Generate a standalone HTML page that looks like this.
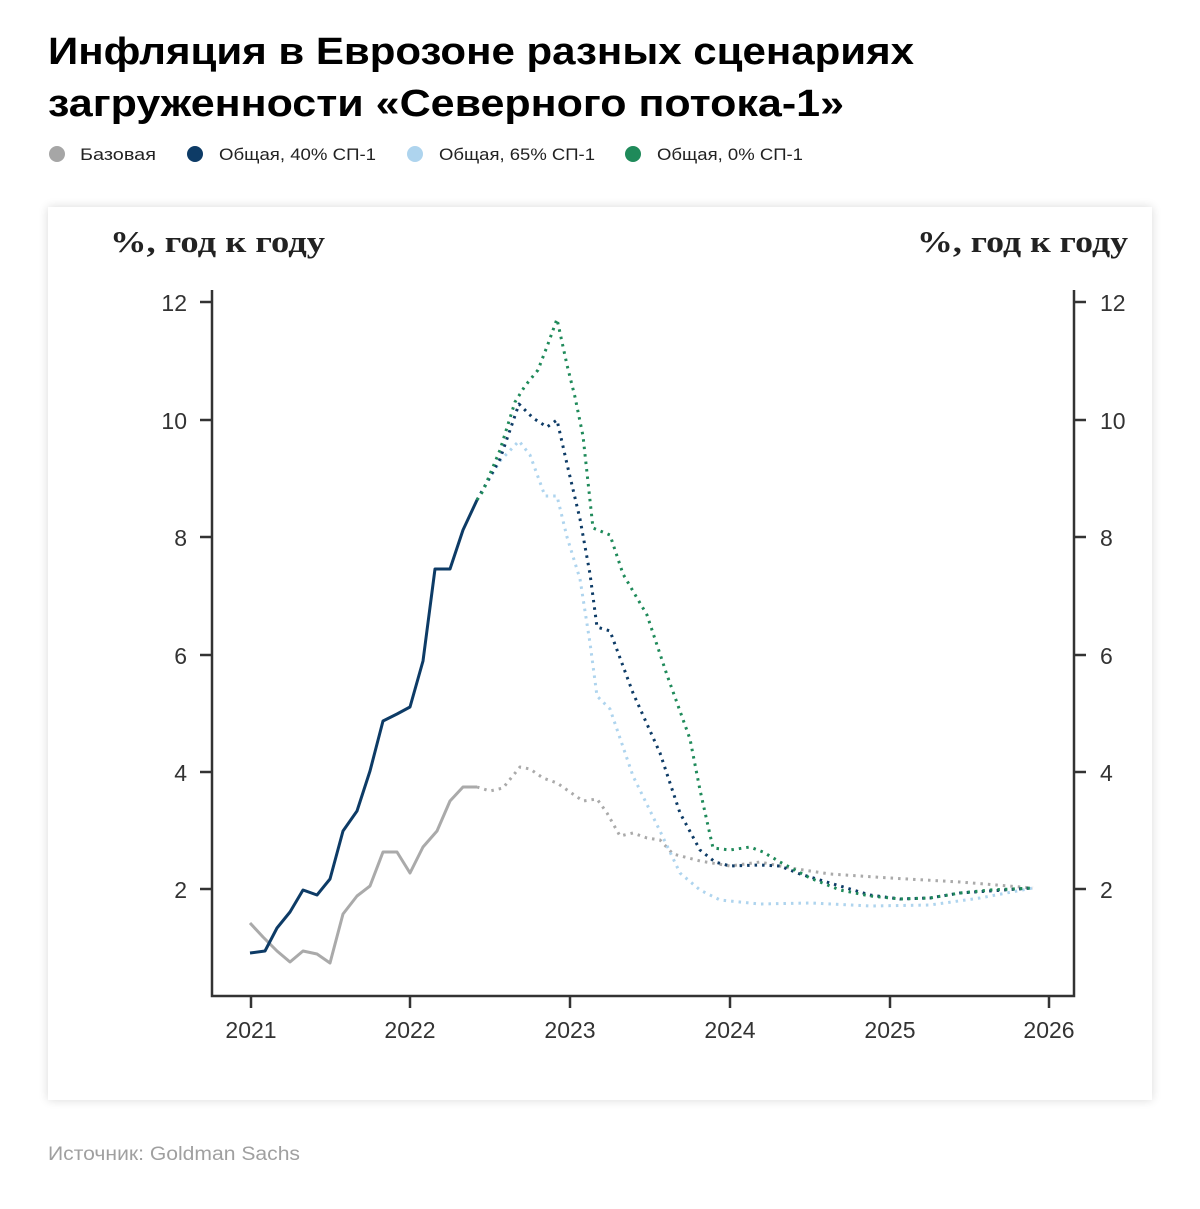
<!DOCTYPE html>
<html><head><meta charset="utf-8"><style>
html,body{margin:0;padding:0;background:#fff;}
body{width:1200px;height:1204px;overflow:hidden;}
</style></head><body>
<svg width="1200" height="1204" viewBox="0 0 1200 1204" xmlns="http://www.w3.org/2000/svg">
<defs><filter id="sh" x="-5%" y="-5%" width="110%" height="110%"><feGaussianBlur stdDeviation="5"/></filter></defs>
<g font-family="Liberation Sans, sans-serif">
<text x="48" y="64" font-size="38" font-weight="bold" fill="#000" textLength="866" lengthAdjust="spacingAndGlyphs">Инфляция в Еврозоне разных сценариях</text>
<text x="48" y="116" font-size="38" font-weight="bold" fill="#000" textLength="796" lengthAdjust="spacingAndGlyphs">загруженности «Северного потока-1»</text>
<g font-size="17" fill="#222">
<circle cx="57" cy="154" r="8" fill="#a6a6a6"/><text x="80" y="160" textLength="76" lengthAdjust="spacingAndGlyphs">Базовая</text>
<circle cx="195" cy="154" r="8" fill="#0d3b66"/><text x="219" y="160" textLength="157" lengthAdjust="spacingAndGlyphs">Общая, 40% СП-1</text>
<circle cx="415" cy="154" r="8" fill="#aed4ee"/><text x="439" y="160" textLength="156" lengthAdjust="spacingAndGlyphs">Общая, 65% СП-1</text>
<circle cx="633" cy="154" r="8" fill="#1f8a5a"/><text x="657" y="160" textLength="146" lengthAdjust="spacingAndGlyphs">Общая, 0% СП-1</text>
</g>
</g>
<rect x="48" y="207" width="1104" height="893" fill="#000" opacity="0.15" filter="url(#sh)"/>
<rect x="48" y="207" width="1104" height="893" fill="#fff"/>
<g font-family="Liberation Serif, serif" font-weight="bold" font-size="31" fill="#222">
<text x="110" y="252" textLength="215" lengthAdjust="spacingAndGlyphs">%, год к году</text>
<text x="917" y="252" textLength="211" lengthAdjust="spacingAndGlyphs">%, год к году</text>
</g>
<g stroke="#333" stroke-width="2.5" fill="none">
<path d="M212 290 V996 H1074 V290"/>
<path d="M200 302H212M200 420H212M200 537H212M200 655H212M200 772H212M200 889H212"/>
<path d="M1074 302H1086M1074 420H1086M1074 537H1086M1074 655H1086M1074 772H1086M1074 889H1086"/>
<path d="M251 996V1008M410 996V1008M570 996V1008M730 996V1008M890 996V1008M1049 996V1008"/>
</g>
<g font-family="Liberation Sans, sans-serif" font-size="23" fill="#333">
<g text-anchor="end"><text x="187" y="311">12</text><text x="187" y="429">10</text><text x="187" y="546">8</text><text x="187" y="664">6</text><text x="187" y="781">4</text><text x="187" y="898">2</text></g>
<g><text x="1100" y="311">12</text><text x="1100" y="429">10</text><text x="1100" y="546">8</text><text x="1100" y="664">6</text><text x="1100" y="781">4</text><text x="1100" y="898">2</text></g>
<g text-anchor="middle"><text x="251" y="1038">2021</text><text x="410" y="1038">2022</text><text x="570" y="1038">2023</text><text x="730" y="1038">2024</text><text x="890" y="1038">2025</text><text x="1049" y="1038">2026</text></g>
</g>
<g fill="none" stroke-linejoin="round">
<polyline stroke="#aaa" stroke-width="3" points="250,923 263,937 277,951 290,962 303,951 317,954 330,963 343,914 357,896 370,886 383,852 397,852 410,873 423,847 437,831 450,801 463,787 477,787"/>
<polyline stroke="#aaa" stroke-width="3" stroke-dasharray="2.5 5" points="477,787 490,791 503,788 520,767 530,769 543,778 557,783 570,792 583,801 597,799 607,813 620,836 633,833 647,838 660,840 673,854 700,861 730,866 760,862 790,868 830,874 890,878 960,882 1033,888"/>
<polyline stroke="#aed4ee" stroke-width="3" stroke-dasharray="2.5 5" points="477,500 500,461 519,441 530,455 545,496 557,496 567,537 580,579 590,643 597,696 610,709 633,776 660,831 680,873 700,890 720,900 760,904 810,903 870,906 930,905 980,898 1033,888"/>
<polyline stroke="#0d3b66" stroke-width="3" stroke-dasharray="2.5 5" points="477,500 500,459 519,404 533,418 547,427 557,420 567,464 580,519 590,574 597,627 610,631 633,693 660,753 680,813 700,850 715,862 730,866 760,865 780,866 800,874 830,883 870,895 900,899 930,898 960,893 1033,888"/>
<polyline stroke="#1f8a5a" stroke-width="3" stroke-dasharray="2.5 5" points="477,500 483,491 500,450 515,402 525,386 538,370 548,344 557,319 567,365 575,397 583,436 593,528 610,535 623,574 647,615 667,675 690,739 700,790 713,848 730,850 750,847 763,852 780,862 810,878 840,890 870,896 900,899 930,898 960,893 990,890 1033,888"/>
<polyline stroke="#0d3b66" stroke-width="3" points="250,953 265,951 277,928 290,912 303,890 317,895 330,879 343,831 357,811 370,771 383,721 397,714 410,707 423,661 435,569 450,569 463,530 477,500"/>
</g>
<text x="48" y="1160" font-family="Liberation Sans, sans-serif" font-size="19" fill="#a0a0a0" textLength="252" lengthAdjust="spacingAndGlyphs">Источник: Goldman Sachs</text>
</svg>
</body></html>
